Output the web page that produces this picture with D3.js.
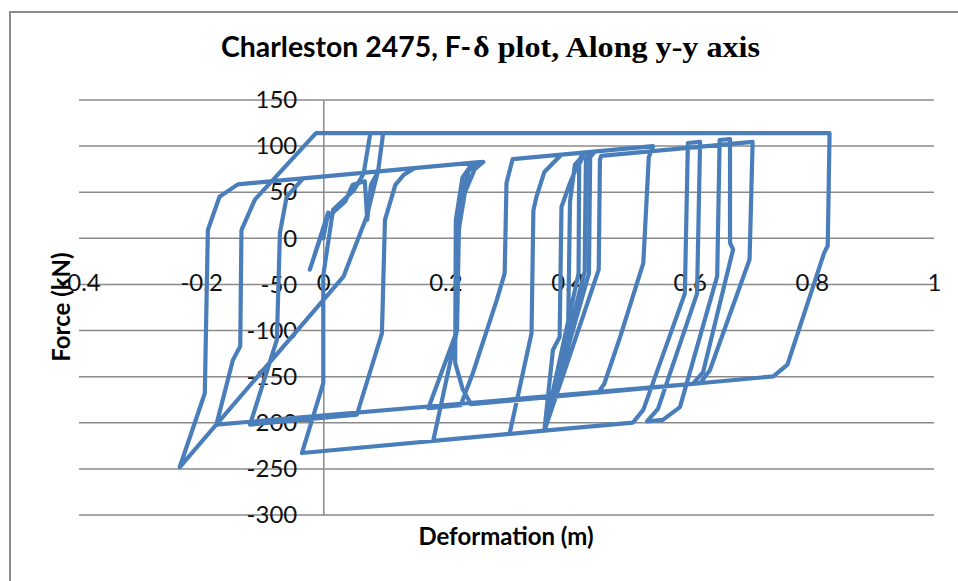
<!DOCTYPE html>
<html>
<head>
<meta charset="utf-8">
<script src="https://cdn.jsdelivr.net/npm/d3@7/dist/d3.min.js"></script>
<style>
  html, body { margin: 0; padding: 0; background: #fff; }
  svg { display: block; }
</style>
</head>
<body>
<svg id="chart" width="958" height="581"></svg>
<script>
// Hysteresis path of the isolator along the y-y axis (deformation in m, force in kN)
const deformation = [
  0, 0.008, -0.022, 0.006, 0.036, 0.048, 0.068, 0.072, 0.078, 0.09,
  0.15, 0.132, 0.118, 0.101, 0.096, 0.055,
  -0.12, -0.076, -0.071, -0.06, -0.033,
  0.255, 0.238, 0.226, 0.222, 0.219, 0.172,
  0.225, 0.245, 0.284, 0.297, 0.3, 0.31,
  0.54, 0.533, 0.524, 0.486, 0.46, 0.45,
  0.737, 0.76, 0.82, 0.826, 0.829,
  -0.012, -0.112, -0.134, -0.136, -0.148, -0.175,
  0.605, 0.622, 0.671, 0.666, 0.666,
  0.649, 0.645, 0.584, 0.556,
  0.53, 0.548, 0.612, 0.617,
  0.597, 0.592, 0.524, 0.507,
  0.362, 0.376, 0.387, 0.39, 0.404, 0.425,
  0.43, 0.412, 0.404, 0.401, 0.362,
  0.418, 0.419, 0.428,
  0.438, 0.43, 0.428, 0.362,
  0.435, 0.437, 0.445,
  0.39, 0.362, 0.349, 0.344, 0.341, 0.305,
  0.18, 0.218, 0.222, 0.232, 0.248, 0.262,
  0.245, 0.228, 0.217, 0.216, 0.228, 0.242,
  0.617, 0.633, 0.698, 0.703,
  0.455, 0.453, 0.451, 0.362,
  -0.035, 0, 0, 0.016, 0.05, 0.066, 0.077,
  0.098, 0.09, 0.071, 0.033, -0.235,
  -0.194, -0.189, -0.17, -0.14, 0.02
];
const force = [
  0, 28, -34, 22, 40, 58, 62, 20, 58, 72.5,
  76.2, 69, 58, 20, -103, -191.3,
  -202, -110, 6, 45, 65,
  82.6, 73, 40, 8, -100, -184.2,
  -181, -146, -67, -38, 60, 85.9,
  99.9, 88, -27, -107, -158, -167.3,
  -149.7, -137, -16, -8, 114,
  114, 42, 9, -117, -132, -202,
  -157.8, -145, -12, -5, 107.6,
  106.6, -41, -183, -196.8,
  -198.4, -185, -60, 104.6,
  103.4, -60, -186, -199.8,
  -208.6, -121, -107, 34, 60, 92.9,
  93.2, 80, 40, -95, -208.6,
  -38, 80, 93.1,
  93.7, 85, -36, -208.6,
  -38, 88, 94.1,
  90.8, 72, 45, 30, -103, -212.1,
  -219.7, -103, 10, 50, 75, 83,
  81.9, 66, 20, -135, -163, -179.9,
  -157.1, -143, -23, 104.5,
  89.5, 85, -34, -208.6,
  -232.8, -157, -40, 31, 52, 70, 114,
  114, 74, 23.5, -41.6, -248,
  -168, 9, 45, 58.5, 68.2
];

const xTicks = [-0.4, -0.2, 0, 0.2, 0.4, 0.6, 0.8, 1];
const xTickLabels = ["-0.4", "-0.2", "0", "0.2", "0.4", "0.6", "0.8", "1"];
const yTicks = [150, 100, 50, 0, -50, -100, -150, -200, -250, -300];
const yTickLabels = ["150", "100", "50", "0", "-50", "-100", "-150", "-200", "-250", "-300"];

const titleSans = "Charleston 2475, F-";
const titleSerif = "\u03b4 plot, Along y-y axis";
const xTitle = "Deformation (m)";
const yTitle = "Force (kN)";

const svg = d3.select("#chart");
const plotLeft = 79, plotRight = 934, plotTop = 100, plotBottom = 515;

const x = d3.scaleLinear().domain([-0.4, 1]).range([plotLeft, plotRight]);
const y = d3.scaleLinear().domain([-300, 150]).range([plotBottom, plotTop]);

// outer chart frame
svg.append("path")
  .attr("d", "M10,581V12H958")
  .attr("fill", "none")
  .attr("stroke", "#8c8c8c")
  .attr("stroke-width", 2);

// horizontal gridlines
svg.append("g").selectAll("line")
  .data(yTicks)
  .join("line")
  .attr("x1", plotLeft).attr("x2", plotRight)
  .attr("y1", d => y(d)).attr("y2", d => y(d))
  .attr("stroke", "#8a8a8a")
  .attr("stroke-width", 1.5);

// vertical axis through deformation = 0
const yAxis = d3.axisLeft(y)
  .tickValues(yTicks)
  .tickSize(0)
  .tickPadding(26)
  .tickFormat((d, i) => yTickLabels[i]);
const gy = svg.append("g")
  .attr("transform", `translate(${x(0)},0)`)
  .call(yAxis);
gy.select(".domain").attr("stroke", "#8a8a8a").attr("stroke-width", 1.5);
gy.selectAll("text")
  .attr("font-family", "Lato, 'Open Sans', sans-serif")
  .attr("font-size", 24)
  .attr("fill", "#111");

// horizontal axis labels
const xAxis = d3.axisBottom(x)
  .tickValues(xTicks)
  .tickSize(0)
  .tickPadding(0)
  .tickFormat((d, i) => xTickLabels[i]);
const gx = svg.append("g")
  .attr("transform", `translate(0,${y(-50) - 2})`)
  .call(xAxis);
gx.select(".domain").remove();
gx.selectAll("text")
  .attr("y", 0)
  .attr("dy", "0.36em")
  .attr("font-family", "Lato, 'Open Sans', sans-serif")
  .attr("font-size", 24)
  .attr("fill", "#111");

// force-deformation loop
const pts = deformation.map((d, i) => [d, force[i]]);
const line = d3.line().x(d => x(d[0])).y(d => y(d[1]));
svg.append("path")
  .datum(pts)
  .attr("d", line)
  .attr("fill", "none")
  .attr("stroke", "#4a7ebb")
  .attr("stroke-width", 4.2)
  .attr("stroke-linejoin", "round")
  .attr("stroke-linecap", "round");

// title
svg.append("text")
  .attr("x", 221).attr("y", 57)
  .attr("font-family", "'Liberation Sans Narrow', Lato, sans-serif")
  .attr("font-weight", "bold")
  .attr("font-size", 28)
  .attr("textLength", 250)
  .attr("lengthAdjust", "spacingAndGlyphs")
  .attr("fill", "#000")
  .text(titleSans);
svg.append("text")
  .attr("x", 473).attr("y", 57)
  .attr("font-family", "'Liberation Serif', serif")
  .attr("font-weight", "bold")
  .attr("font-size", 29)
  .attr("textLength", 287)
  .attr("lengthAdjust", "spacingAndGlyphs")
  .attr("fill", "#000")
  .text(titleSerif);

// axis titles
svg.append("text")
  .attr("x", 506).attr("y", 545)
  .attr("text-anchor", "middle")
  .attr("font-family", "Lato, 'Open Sans', sans-serif")
  .attr("font-weight", "bold")
  .attr("font-size", 24)
  .attr("fill", "#000")
  .text(xTitle);
svg.append("text")
  .attr("transform", "translate(70,307) rotate(-90)")
  .attr("text-anchor", "middle")
  .attr("font-family", "Lato, 'Open Sans', sans-serif")
  .attr("font-weight", "bold")
  .attr("font-size", 24)
  .attr("fill", "#000")
  .text(yTitle);
</script>
</body>
</html>
